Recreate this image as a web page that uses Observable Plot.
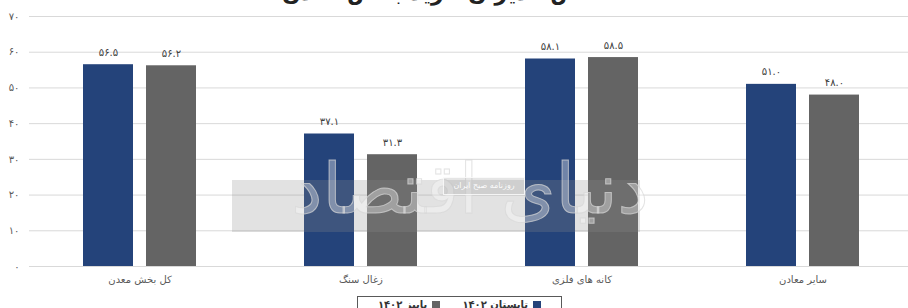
<!DOCTYPE html>
<html lang="fa">
<head>
<meta charset="utf-8">
<script src="https://cdn.jsdelivr.net/npm/d3@7"></script>
<script src="https://cdn.jsdelivr.net/npm/@observablehq/plot@0.6"></script>
<style>
  html, body { margin: 0; padding: 0; background: #fff; overflow: hidden; }
  #wrap { position: relative; width: 908px; height: 308px; overflow: hidden; font-family: "DejaVu Sans", sans-serif; }
  #title { position: absolute; top: -20px; left: 0; width: 908px; text-align: center; font-weight: bold; font-size: 22px; color: #222; direction: rtl; }
  #chart { position: absolute; top: 0; left: 0; }
  #wm { position: absolute; left: 232px; top: 180px; width: 408px; height: 52px; background: rgba(140,140,140,0.25); pointer-events: none; }
  #wmtext { position: absolute; left: 220px; top: 148px; width: 500px; text-align: center; font-size: 70px; color: rgba(255,255,255,0.35); -webkit-text-stroke: 1px rgba(215,215,215,0.7); direction: rtl; font-family: "DejaVu Sans", sans-serif; pointer-events: none; }
  #wmsub { position: absolute; left: 443px; top: 177px; width: 80px; height: 16px; border: 1px solid rgba(255,255,255,0.8); font-size: 8px; line-height: 16px; text-align: center; color: rgba(255,255,255,0.95); direction: rtl; background: rgba(150,150,150,0.25); }
  #legend { position: absolute; top: 296px; left: 357px; width: 205px; height: 20px; border: 1px solid #595959; display: flex; direction: rtl; justify-content: center; align-items: flex-start; gap: 22px; font-size: 10px; font-weight: bold; color: #333; padding-top: 2px; box-sizing: border-box; }
  #legend span.sw { display: inline-block; width: 8px; height: 8px; margin-left: 5px; vertical-align: middle; }
</style>
</head>
<body>
<div id="wrap">
  <div id="title">شاخص مدیران خرید بخش معدن</div>
  <div id="chart"></div>
  <div id="wm"></div>
  <div id="wmtext">دنیای اقتصاد</div>
  <div id="wmsub">روزنامه صبح ایران</div>
  <div id="legend"></div>
</div>
<script>
const categories = ["کل بخش معدن", "زغال سنگ", "کانه های فلزی", "سایر معادن"];
const seriesNames = ["تابستان ۱۴۰۲", "پاییز ۱۴۰۲"];
const summerValues = [56.5, 37.1, 58.1, 51.0];
const autumnValues = [56.2, 31.3, 58.5, 48.0];
const yTicks = [0, 10, 20, 30, 40, 50, 60, 70];
const colors = ["#24437a", "#646464"];

const faDigits = s => String(s).replace(/\d/g, d => "۰۱۲۳۴۵۶۷۸۹"[d]);

const data = [];
categories.forEach((c, i) => {
  data.push({cat: c, series: seriesNames[0], value: summerValues[i]});
  data.push({cat: c, series: seriesNames[1], value: autumnValues[i]});
});

const chart = Plot.plot({
  width: 908,
  height: 292,
  marginTop: 16,
  marginBottom: 26,
  marginLeft: 29,
  marginRight: -5,
  style: {fontFamily: "DejaVu Sans, sans-serif", fontSize: "10px", color: "#595959", background: "transparent"},
  fx: {domain: categories, padding: 0, axis: "bottom", label: null, tickSize: 0, tickPadding: 9},
  x: {domain: seriesNames, paddingInner: 13/63, paddingOuter: 0.857, axis: null},
  y: {domain: [0, 70], ticks: yTicks, tickFormat: d => faDigits(d), tickSize: 0, tickPadding: 10, label: null},
  color: {domain: seriesNames, range: colors},
  marks: [
    Plot.ruleY(yTicks, {stroke: "#d9d9d9", strokeWidth: 1}),
    Plot.barY(data, {fx: "cat", x: "series", y: "value", fill: "series"}),
    Plot.text(data, {fx: "cat", x: "series", y: "value", text: d => faDigits(d.value.toFixed(1)), dy: -9, lineAnchor: "bottom", fill: "#404040", fontSize: 10})
  ]
});
document.getElementById("chart").appendChild(chart);

const legend = document.getElementById("legend");
seriesNames.forEach((s, i) => {
  const item = document.createElement("div");
  const sw = document.createElement("span");
  sw.className = "sw";
  sw.style.background = colors[i];
  item.appendChild(sw);
  item.appendChild(document.createTextNode(s));
  legend.appendChild(item);
});
</script>
</body>
</html>
